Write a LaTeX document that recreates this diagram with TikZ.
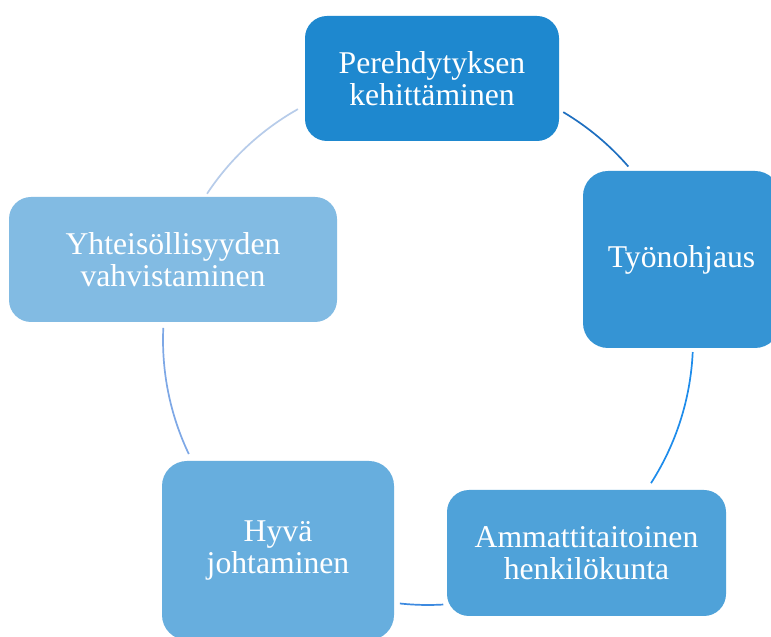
\documentclass[tikz,border=0pt]{standalone}
\usepackage{fontspec}
\setmainfont{Liberation Serif}
\usetikzlibrary{calc}
\definecolor{cA}{RGB}{30,136,207}
\definecolor{cB}{RGB}{53,148,212}
\definecolor{cC}{RGB}{79,162,217}
\definecolor{cD}{RGB}{103,174,222}
\definecolor{cE}{RGB}{130,187,227}
\definecolor{lA}{RGB}{30,111,192}
\definecolor{lB}{RGB}{30,140,235}
\definecolor{lC}{RGB}{61,138,224}
\definecolor{lD}{RGB}{126,168,230}
\definecolor{lE}{RGB}{183,204,234}
\tikzset{
  box/.style={rectangle, rounded corners=22pt, inner sep=0pt, align=center,
    text=white, font=\fontsize{31.7}{32.5}\selectfont},
  ring/.style={line width=1.7pt}
}
\begin{document}
\begin{tikzpicture}[x=1pt,y=1pt]
\path[use as bounding box, clip] (0,0) rectangle (771,637);
\fill[white] (0,0) rectangle (771,637);
\node[box, fill=cA, minimum width=254pt, minimum height=125pt] (n1) at (432,558.5) {Perehdytyksen\\kehittäminen};
\node[box, fill=cB, minimum width=197pt, minimum height=177pt, rounded corners=25pt] (n2) at (681.5,377.5) {Työnohjaus};
\node[box, fill=cC, minimum width=279pt, minimum height=126pt] (n3) at (586.5,84) {Ammattitaitoinen\\henkilökunta};
\node[box, fill=cD, minimum width=232pt, minimum height=179pt, rounded corners=25pt] (n4) at (278,86.5) {Hyvä\\johtaminen};
\node[box, fill=cE, minimum width=328pt, minimum height=125pt] (n5) at (173,377.5) {Yhteisöllisyyden\\vahvistaminen};
\coordinate (c) at (428,297);
\coordinate (a1) at ($(c)+(59.3:265)$);
\coordinate (a2) at ($(c)+(-2.6:265)$);
\coordinate (a3) at ($(c)+(-86.7:265)$);
\coordinate (a4) at ($(c)+(205.5:265)$);
\coordinate (a5) at ($(c)+(146.5:265)$);
\draw[ring, lA] (a1) arc[start angle=59.3, end angle=40.9, radius=265];
\draw[ring, lB] (a2) arc[start angle=-2.6, end angle=-32.7, radius=265];
\draw[ring, lC] (a3) arc[start angle=-86.7, end angle=-96.1, radius=265];
\draw[ring, lD] (a4) arc[start angle=205.5, end angle=177.4, radius=265];
\draw[ring, lE] (a5) arc[start angle=146.5, end angle=119.4, radius=265];
\end{tikzpicture}
\end{document}
